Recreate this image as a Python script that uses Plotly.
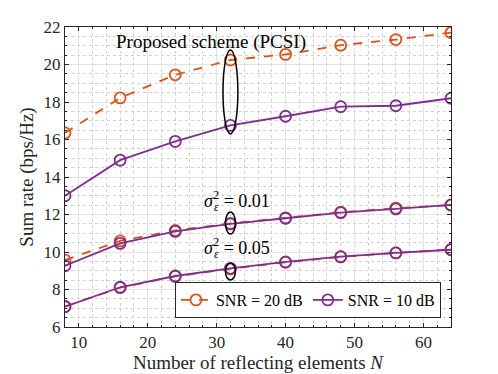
import plotly.graph_objects as go

N = [8, 16, 24, 32, 40, 48, 56, 64]

# PCSI
pcsi_20 = [16.35, 18.22, 19.45, 20.24, 20.54, 21.03, 21.33, 21.70]
pcsi_10 = [13.00, 14.90, 15.90, 16.75, 17.24, 17.75, 17.80, 18.20]
# sigma^2 = 0.01
s01_20 = [9.57, 10.59, 11.15, 11.52, 11.82, 12.12, 12.34, 12.50]
s01_10 = [9.27, 10.46, 11.10, 11.50, 11.80, 12.10, 12.30, 12.51]
# sigma^2 = 0.05
s05_20 = [7.10, 8.10, 8.70, 9.10, 9.45, 9.74, 9.95, 10.14]
s05_10 = [7.08, 8.12, 8.72, 9.13, 9.47, 9.75, 9.95, 10.12]

orange = '#D95319'
purple = '#7E2F8E'
font = 'Liberation Serif'

fig = go.Figure()


def add(y, color, dash, name, show):
    fig.add_trace(go.Scatter(
        x=N, y=y, mode='lines+markers', name=name, showlegend=show,
        line=dict(color=color, width=1.8, dash=dash),
        marker=dict(symbol='circle-open', size=11, color=color,
                    line=dict(width=1.8, color=color))))


add(pcsi_20, orange, 'dash', 'SNR = 20 dB', True)
add(pcsi_10, purple, 'solid', 'SNR = 10 dB', True)
add(s01_20, orange, 'dash', 'SNR = 20 dB', False)
add(s01_10, purple, 'solid', 'SNR = 10 dB', False)
add(s05_20, orange, 'dash', 'SNR = 20 dB', False)
add(s05_10, purple, 'solid', 'SNR = 10 dB', False)

# ellipses
for y0, y1, hw in [(16.3, 20.77, 1.08), (10.96, 12.13, 0.72), (8.51, 9.4, 0.72)]:
    fig.add_shape(type='circle', xref='x', yref='y',
                  x0=32 - hw, x1=32 + hw, y0=y0, y1=y1,
                  line=dict(color='black', width=1.5))

fig.add_annotation(x=29.2, y=21.2, text='Proposed scheme (PCSI)', showarrow=False,
                   font=dict(family=font, size=19, color='black'))
# sigma_eps^2 labels: superscript 2 with a small epsilon placed underneath
for yv, lab in [(12.8, '0.01'), (10.3, '0.05')]:
    fig.add_annotation(x=27.9, y=yv, xanchor='left', text='<i>σ</i><sup>2</sup> = ' + lab,
                       showarrow=False, font=dict(family=font, size=18, color='black'))
    fig.add_annotation(x=29.95, y=yv - 0.42, text='<i>ε</i>', showarrow=False,
                       font=dict(family=font, size=12, color='black'))

axis_common = dict(showline=True, linecolor='#262626', linewidth=1, mirror='allticks',
                   ticks='inside', ticklen=4, tickcolor='#262626', automargin=False,
                   showgrid=True, gridcolor='#e3e3e3', gridwidth=1, zeroline=False,
                   tickfont=dict(family=font, size=17, color='#262626'))

# page body has an 8px margin, so the figure is offset by (8, 8)
fig.update_layout(
    width=490, height=366,
    margin=dict(l=57, r=47, t=19, b=47),
    plot_bgcolor='white', paper_bgcolor='white',
    font=dict(family=font, size=17, color='#262626'),
    xaxis=dict(range=[8, 64], tickvals=[10, 20, 30, 40, 50, 60],
               title=dict(text='Number of reflecting elements <i>N</i>', standoff=2,
                          font=dict(family=font, size=19, color='#262626')),
               minor=dict(dtick=2, tick0=0, ticks='inside', ticklen=2, tickcolor='#262626',
                          showgrid=True, gridcolor='#d0d0d0', griddash='dot'),
               **axis_common),
    yaxis=dict(range=[6, 22], dtick=2, tick0=6,
               title=dict(text='Sum rate (bps/Hz)', standoff=4,
                          font=dict(family=font, size=19, color='#262626')),
               minor=dict(dtick=0.5, tick0=0, ticks='inside', ticklen=2, tickcolor='#262626',
                          showgrid=True, gridcolor='#d0d0d0', griddash='dot'),
               **axis_common),
    legend=dict(orientation='h', x=0.974, xanchor='right', y=0.03, yanchor='bottom',
                bgcolor='white', bordercolor='#262626', borderwidth=1,
                font=dict(family=font, size=16, color='black'),
                itemwidth=30, tracegroupgap=0),
)

fig.write_html('out.html')
